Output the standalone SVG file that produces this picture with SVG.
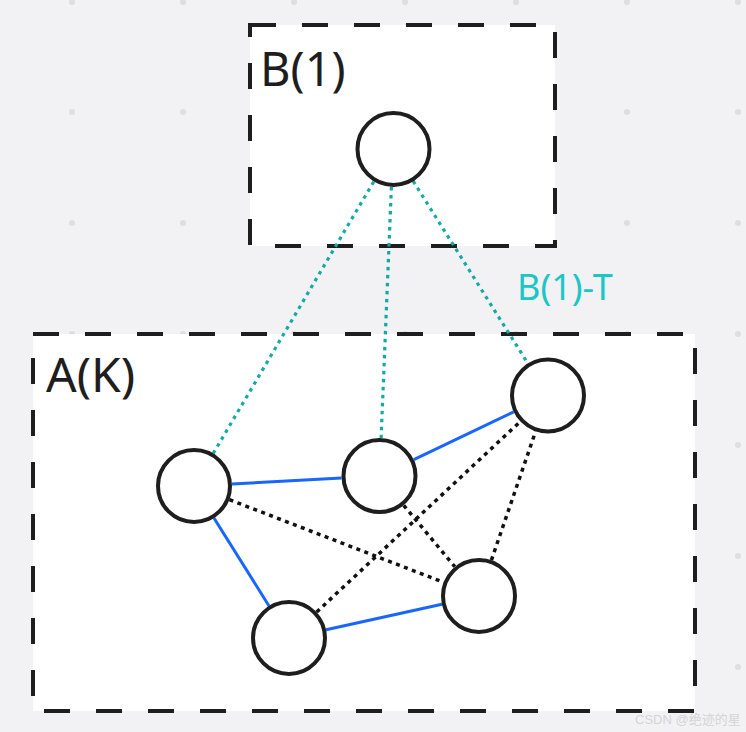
<svg xmlns="http://www.w3.org/2000/svg" width="746" height="732" viewBox="0 0 746 732">
<defs>
<style>
.box{fill:#ffffff;stroke:#1e1e1e;stroke-width:4;stroke-dasharray:26 26}
.node{fill:#ffffff;stroke:#1e1e1e;stroke-width:4}
.blue{stroke:#1966ff;stroke-width:3;fill:none}
.blk{stroke:#111111;stroke-width:3.5;stroke-dasharray:4 4.5;fill:none}
.teal{stroke:#12aaa6;stroke-width:3.2;stroke-dasharray:3.5 4.5;fill:none}
.lbl{font-family:"Noto Sans","Liberation Sans",sans-serif;fill:#1e1e1e}
.dot{fill:#dedee2}
</style>
</defs>
<rect width="746" height="732" fill="#f2f2f4"/>
<g id="grid">
<g class="dot">
<circle cx="72" cy="2" r="3"/><circle cx="183" cy="2" r="3"/><circle cx="294" cy="2" r="3"/><circle cx="405" cy="2" r="3"/><circle cx="516" cy="2" r="3"/><circle cx="627" cy="2" r="3"/><circle cx="738" cy="2" r="3"/>
<circle cx="72" cy="112" r="3"/><circle cx="183" cy="112" r="3"/><circle cx="294" cy="112" r="3"/><circle cx="405" cy="112" r="3"/><circle cx="516" cy="112" r="3"/><circle cx="627" cy="112" r="3"/><circle cx="738" cy="112" r="3"/>
<circle cx="72" cy="223" r="3"/><circle cx="183" cy="223" r="3"/><circle cx="294" cy="223" r="3"/><circle cx="405" cy="223" r="3"/><circle cx="516" cy="223" r="3"/><circle cx="627" cy="223" r="3"/><circle cx="738" cy="223" r="3"/>
<circle cx="72" cy="334" r="3"/><circle cx="183" cy="334" r="3"/><circle cx="294" cy="334" r="3"/><circle cx="405" cy="334" r="3"/><circle cx="516" cy="334" r="3"/><circle cx="627" cy="334" r="3"/><circle cx="738" cy="334" r="3"/>
<circle cx="72" cy="445" r="3"/><circle cx="183" cy="445" r="3"/><circle cx="294" cy="445" r="3"/><circle cx="405" cy="445" r="3"/><circle cx="516" cy="445" r="3"/><circle cx="627" cy="445" r="3"/><circle cx="738" cy="445" r="3"/>
<circle cx="72" cy="556" r="3"/><circle cx="183" cy="556" r="3"/><circle cx="294" cy="556" r="3"/><circle cx="405" cy="556" r="3"/><circle cx="516" cy="556" r="3"/><circle cx="627" cy="556" r="3"/><circle cx="738" cy="556" r="3"/>
<circle cx="72" cy="667" r="3"/><circle cx="183" cy="667" r="3"/><circle cx="294" cy="667" r="3"/><circle cx="405" cy="667" r="3"/><circle cx="516" cy="667" r="3"/><circle cx="627" cy="667" r="3"/><circle cx="738" cy="667" r="3"/>
</g>
</g>
<g id="boxB">
<rect class="box" x="250" y="25" width="305" height="221"/>
<text class="lbl" x="260" y="86" font-size="47">B(1)</text>
</g>
<g id="boxA">
<rect class="box" x="33" y="334" width="662" height="377"/>
<text class="lbl" x="46" y="392" font-size="48">A(K)</text>
</g>
<g id="connectors">
<line class="teal" x1="373.7" y1="181.7" x2="213.3" y2="453.3"/>
<line class="teal" x1="391.4" y1="187" x2="381.1" y2="438"/>
<line class="teal" x1="413.2" y1="181.2" x2="527.8" y2="363.3"/>
<line class="blue" x1="232" y1="484" x2="341.6" y2="478"/>
<line class="blue" x1="214.1" y1="518.2" x2="268.9" y2="605.8"/>
<line class="blue" x1="326.1" y1="629.8" x2="441.9" y2="604.2"/>
<line class="blue" x1="413.8" y1="459.6" x2="513.7" y2="411.9"/>
<line class="blk" x1="229.5" y1="499.7" x2="443.5" y2="582.3"/>
<line class="blk" x1="316.7" y1="612" x2="520.3" y2="421.5"/>
<line class="blk" x1="403.7" y1="505.3" x2="454.8" y2="566.7"/>
<line class="blk" x1="491.4" y1="560.1" x2="535.6" y2="431.4"/>
</g>
<g id="label-b1t">
<text x="517" y="300" font-size="36" font-family="'Noto Sans','Liberation Sans',sans-serif" fill="#1cc6c6">B(1)-T</text>
</g>
<g id="nodeB"><circle class="node" cx="393.5" cy="149" r="36"/></g>
<g id="nodeLeft"><circle class="node" cx="194" cy="486" r="36"/></g>
<g id="nodeMid"><circle class="node" cx="379.5" cy="476" r="36"/></g>
<g id="nodeRight"><circle class="node" cx="548" cy="395.5" r="36"/></g>
<g id="nodeBR"><circle class="node" cx="479" cy="596" r="36"/></g>
<g id="nodeBottom"><circle class="node" cx="289" cy="638" r="36"/></g>
<g id="watermark">
<text x="635" y="724" font-size="13" font-family="'Liberation Sans','Noto Sans CJK SC',sans-serif" fill="#d4d4d8">CSDN @绝迹的星</text>
</g>
</svg>
